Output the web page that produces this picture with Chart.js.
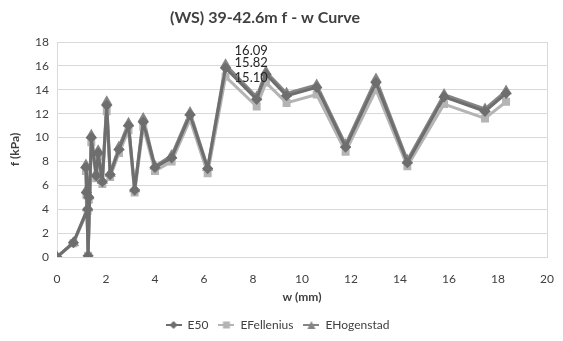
<!DOCTYPE html>
<html>
<head>
<meta charset="utf-8">
<script src="https://cdn.jsdelivr.net/npm/chart.js@4"></script>
<style>
  html, body { margin: 0; padding: 0; background: #fff; }
  #wrap { width: 563px; height: 341px; }
</style>
</head>
<body>
<div id="wrap"><canvas id="fwChart" width="563" height="341"></canvas></div>
<script>
// === DATOS ===
const wValues    = [0, 0.67, 1.25, 1.2, 1.3, 1.18, 1.27, 1.4, 1.6, 1.68, 1.85, 2.03, 2.17, 2.53, 2.92, 3.17, 3.52, 4.0, 4.68, 5.43, 6.15, 6.88, 8.15, 8.53, 9.37, 10.6, 11.78, 13.02, 14.3, 15.8, 17.47, 18.33];
const e50        = [0, 1.2, 4.0, 5.4, 5.0, 7.5, 0.1, 10.0, 6.8, 8.7, 6.3, 12.7, 6.9, 9.0, 11.0, 5.6, 11.3, 7.5, 8.3, 11.9, 7.4, 15.82, 13.2, 15.3, 13.5, 14.2, 9.2, 14.6, 7.9, 13.4, 12.2, 13.7];
const eFellenius = [0, 1.15, 3.85, 5.2, 4.8, 7.2, 0.1, 9.6, 6.6, 8.4, 6.1, 12.2, 6.7, 8.7, 10.6, 5.4, 10.9, 7.2, 8.0, 11.5, 7.0, 15.10, 12.6, 14.6, 12.9, 13.6, 8.8, 14.0, 7.6, 12.8, 11.6, 13.0];
const eHogenstad = [0, 1.2, 4.1, 5.6, 5.1, 7.7, 0.1, 10.2, 7.0, 8.9, 6.4, 13.0, 7.0, 9.2, 11.2, 5.7, 11.6, 7.6, 8.5, 12.1, 7.5, 16.09, 13.4, 15.5, 13.7, 14.4, 9.4, 14.9, 8.1, 13.6, 12.4, 13.9];
const seriesNames = ["E50", "EFellenius", "EHogenstad"];
const chartTitle = "(WS) 39-42.6m f - w Curve";

// estilos
const colors = ["#6e6e6e", "#b4b4b4", "#858585"];
const markers = ["rectRot", "rect", "triangle"];
const peakOffsets = [{ dx: 9, dy: -5 }, { dx: 9, dy: 1 }, { dx: 9, dy: -14 }];
const FONT = "Lato, 'Liberation Sans', sans-serif";

const toPoints = (ys) => wValues.map((w, i) => ({ x: w, y: ys[i] }));

// icono de leyenda: línea con marcador
const makeIcon = (color, style) => {
  const c = document.createElement("canvas");
  c.width = 16; c.height = 10;
  const g = c.getContext("2d");
  g.strokeStyle = color; g.fillStyle = color; g.lineWidth = 2;
  g.beginPath(); g.moveTo(0, 5); g.lineTo(16, 5); g.stroke();
  g.beginPath();
  if (style === "rectRot") { g.moveTo(8, 1); g.lineTo(12, 5); g.lineTo(8, 9); g.lineTo(4, 5); }
  else if (style === "rect") { g.rect(4.5, 1.5, 7, 7); }
  else { g.moveTo(8, 1); g.lineTo(12, 9); g.lineTo(4, 9); }
  g.closePath(); g.fill();
  return c;
};

// título (desplazado como en el original) y etiquetas del pico máximo
const extras = {
  id: "extras",
  afterDatasetsDraw(chart) {
    const { ctx } = chart;
    ctx.save();
    ctx.textBaseline = "middle";
    ctx.font = "bold 16px " + FONT;
    ctx.fillStyle = "#404040";
    ctx.textAlign = "center";
    ctx.fillText(chartTitle, 265, 18);

    ctx.font = "13px " + FONT;
    ctx.fillStyle = "#262626";
    ctx.textAlign = "left";
    chart.data.datasets.forEach((ds, i) => {
      let idx = 0;
      ds.data.forEach((p, j) => { if (p.y > ds.data[idx].y) idx = j; });
      const px = chart.scales.x.getPixelForValue(ds.data[idx].x);
      const py = chart.scales.y.getPixelForValue(ds.data[idx].y);
      ctx.fillText(ds.data[idx].y.toFixed(2), px + peakOffsets[i].dx, py + peakOffsets[i].dy);
    });
    ctx.restore();
  }
};

const allSeries = [e50, eFellenius, eHogenstad];

new Chart(document.getElementById("fwChart"), {
  type: "scatter",
  data: {
    datasets: allSeries.map((ys, i) => ({
      label: seriesNames[i],
      data: toPoints(ys),
      showLine: true,
      borderColor: colors[i],
      backgroundColor: colors[i],
      borderWidth: 3,
      borderJoinStyle: "round",
      pointStyle: markers[i],
      pointRadius: 3.5,
      pointHoverRadius: 3.5,
      tension: 0
    }))
  },
  options: {
    responsive: false,
    animation: false,
    layout: { padding: { left: 8, right: 16, top: 42, bottom: 0 } },
    plugins: {
      title: { display: false },
      legend: {
        position: "bottom",
        labels: {
          usePointStyle: true,
          pointStyleWidth: 16,
          color: "#404040",
          font: { family: FONT, size: 12 },
          padding: 10,
          generateLabels: (chart) => chart.data.datasets.map((ds, i) => ({
            text: ds.label,
            pointStyle: makeIcon(colors[i], markers[i]),
            fillStyle: colors[i],
            strokeStyle: colors[i],
            lineWidth: 0,
            fontColor: "#404040",
            datasetIndex: i
          }))
        }
      },
      tooltip: { enabled: false }
    },
    scales: {
      x: {
        type: "linear",
        min: 0, max: 20,
        ticks: { stepSize: 2, color: "#404040", font: { family: FONT, size: 12 }, padding: 3 },
        grid: {
          drawTicks: true,
          tickLength: 12,
          tickColor: "transparent",
          color: (c) => (c.tick && c.tick.value === 20 ? "#d9d9d9" : "transparent")
        },
        border: { color: "#d9d9d9" },
        title: {
          display: true, text: "w (mm)", color: "#404040",
          font: { family: FONT, size: 12, weight: "bold" }, padding: { top: 0, bottom: 5 }
        },
        afterFit: (scale) => { scale.height = 52; }
      },
      y: {
        min: 0, max: 18,
        ticks: { stepSize: 2, color: "#404040", font: { family: FONT, size: 12 }, padding: 8 },
        grid: { drawTicks: false, color: "#d9d9d9" },
        border: { color: "#d9d9d9" },
        title: {
          display: true, text: "f (kPa)", color: "#404040",
          font: { family: FONT, size: 12, weight: "bold" }, padding: { top: 0, bottom: 4 }
        },
        afterFit: (scale) => { scale.width = 49; }
      }
    }
  },
  plugins: [extras]
});
</script>
</body>
</html>
